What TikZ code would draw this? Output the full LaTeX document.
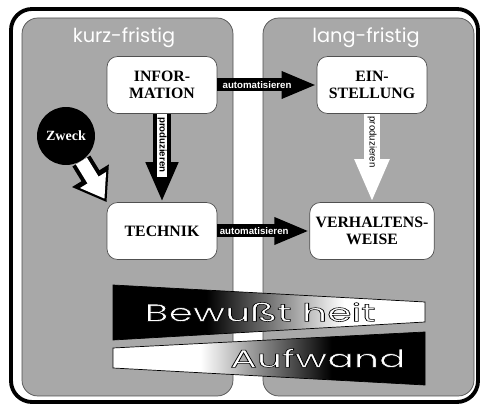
\documentclass[tikz,border=0pt]{standalone}
\usepackage{fontspec}
\setmainfont{Liberation Serif}
\newfontfamily\roundfont{Poppins}
\newfontfamily\labelfont{Liberation Sans}
\usepackage{xcolor}
\usetikzlibrary{arrows.meta}
\definecolor{panelgrey}{RGB}{168,168,168}
\definecolor{rimgrey}{RGB}{80,80,80}
\pgfdeclarehorizontalshading{darktolight}{100bp}{color(0bp)=(black); color(40bp)=(black); color(62bp)=(white); color(100bp)=(white)}
\pgfdeclarehorizontalshading{lighttodark}{100bp}{color(0bp)=(white); color(39bp)=(white); color(60bp)=(black); color(100bp)=(black)}
% white letters with a dark rim
\newcommand{\rimtext}[1]{\textcolor{white}{\special{pdf:code 0 0 0 RG 0.3 w 2 Tr}#1\special{pdf:code 0 Tr}}}

\begin{document}
\begin{tikzpicture}[x=0.02cm, y=-0.02cm,
    box/.style={draw=rimgrey, fill=white, rounded corners=6pt, minimum width=2.2cm, minimum height=1.14cm, align=center, font=\fontsize{9}{9.5}\selectfont\bfseries},
    panel/.style={draw=rimgrey, fill=panelgrey, rounded corners=9pt},
    head/.style={text=white, font=\roundfont\fontsize{11}{12}\selectfont},
    fat/.style={line width=0.26cm, -{Triangle[length=0.7cm, width=0.5cm]}},
    tag/.style={font=\labelfont\fontsize{5.5}{5.5}\selectfont\bfseries, inner sep=0pt},
    wedgetext/.style={font=\roundfont\fontsize{14}{14}\selectfont, xscale=1.6}]
  \useasboundingbox (0,0) rectangle (481,408);
  % frame and the two panels
  \draw[line width=2.2pt, rounded corners=12pt] (11,9) rectangle (478,402);
  \draw[panel] (22,18) rectangle (233,396);
  \draw[panel] (263,18) rectangle (474,396);
  \node[head] (kurz) at (124,38) {kurz-fristig};
  \node[head] (lang) at (366,38) {lang-fristig};

  \node[box] (info) at (162,85) {INFOR-\\MATION};
  \node[box] (einst) at (372,85) {EIN-\\STELLUNG};
  \node[box] (tech) at (162,231) {TECHNIK};
  \node[box] (verh) at (372,231) {VERHALTENS-\\WEISE};
  \node[circle, fill=black, minimum size=1.16cm, inner sep=0pt, text=white, font=\fontsize{8}{8}\selectfont\bfseries] (zweck) at (66,136) {Zweck};

  % horizontal arrows
  \foreach \a/\b in {info/einst,tech/verh}
    \draw[fat] (\a) -- (\b) node[tag, text=white, pos=0.4] {automatisieren};
  % vertical arrows
  \draw[line width=0.38cm, -{Triangle[length=0.8cm, width=0.6cm]}] (info) -- (tech);
  \draw[white, line width=0.22cm, shorten >=0.5cm] (info) -- (tech) node[tag, black, sloped, pos=0.35] {produzieren};
  \draw[white, line width=0.32cm, -{Triangle[length=0.86cm, width=0.64cm]}] (einst) -- (verh) node[tag, black, font=\labelfont\fontsize{5.5}{5.5}\selectfont, sloped, pos=0.32] {produzieren};
  % Zweck arrow
  \draw[line width=0.42cm, -{Triangle[length=0.62cm, width=0.82cm]}] (zweck) -- (tech.north west);
  \draw[white, line width=0.26cm, shorten >=0.08cm, -{Triangle[length=0.44cm, width=0.58cm]}] (zweck) -- (tech.north west);

  % wedges
  \draw[shading=darktolight] (113,285) -- (425,302) -- (425,322) -- (113,340) -- cycle;
  \draw[shading=lighttodark] (113,348) -- (425,332) -- (425,385) -- (113,368) -- cycle;
  \node[wedgetext] (bewusst) at (260,312) {\rimtext{Bewußt heit}};
  \node[wedgetext] (aufwand) at (318,358) {\rimtext{Aufwand}};
\end{tikzpicture}
\end{document}
